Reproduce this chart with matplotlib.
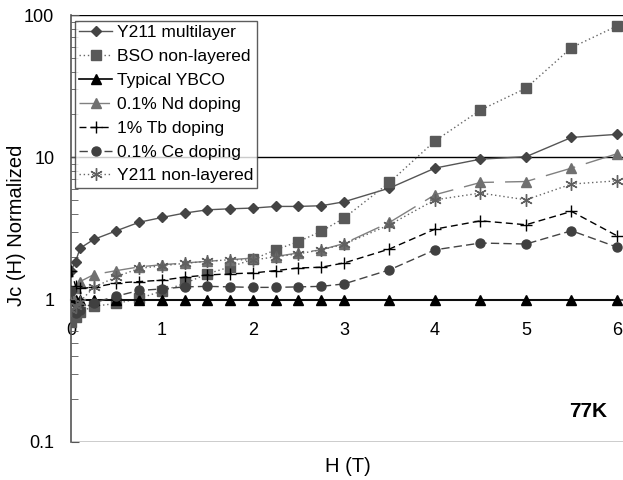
import matplotlib
matplotlib.use("Agg")
import matplotlib.pyplot as plt
from matplotlib.ticker import LogLocator, NullFormatter

plt.rcParams['font.family'] = ['Liberation Sans', 'DejaVu Sans']

# field values (T)
field = [0, 0.05, 0.1, 0.25, 0.5, 0.75, 1, 1.25, 1.5, 1.75, 2, 2.25, 2.5, 2.75,
         3, 3.5, 4, 4.5, 5, 5.5, 6]

# normalized Jc
y211_multilayer = [1.6, 1.85, 2.3, 2.65, 3.05, 3.5, 3.78, 4.06, 4.28, 4.35, 4.4,
                   4.52, 4.52, 4.57, 4.87, 6.08, 8.4, 9.71, 10.1, 13.8, 14.5]
bso_nonlayered = [0.7, 0.75, 0.82, 0.9, 0.94, 1.02, 1.15, 1.3, 1.52, 1.7, 1.92,
                  2.24, 2.56, 3.02, 3.74, 6.66, 13.05, 21.5, 30.6, 59, 83.7]
typical_ybco = [1.0] * len(field)
nd_doping = [1.1, 1.2, 1.34, 1.5, 1.6, 1.7, 1.76, 1.81, 1.86, 1.91, 1.96,
             2.01, 2.13, 2.24, 2.48, 3.49, 5.46, 6.66, 6.76, 8.4, 10.6]
tb_doping = [1.6, 1.25, 1.2, 1.22, 1.31, 1.34, 1.37, 1.44, 1.49, 1.52, 1.54,
             1.6, 1.67, 1.69, 1.81, 2.27, 3.13, 3.58, 3.36, 4.17, 2.81]
ce_doping = [1.15, 0.8, 0.85, 0.95, 1.06, 1.16, 1.19, 1.23, 1.24, 1.23, 1.22,
             1.22, 1.23, 1.24, 1.29, 1.62, 2.24, 2.5, 2.46, 3.05, 2.34]
y211_nonlayered = [0.85, 0.9, 0.97, 1.22, 1.45, 1.66, 1.73, 1.8, 1.86, 1.91, 1.9,
                   2.0, 2.1, 2.24, 2.45, 3.36, 5.03, 5.61, 5.03, 6.49, 6.84]

x_ticks = [0, 1, 2, 3, 4, 5, 6]
y_ticks = [0.1, 1, 10, 100]
y_tick_labels = ["0.1", "1", "10", "100"]

fig = plt.figure(figsize=(6.23, 4.8), dpi=100)
ax = fig.add_axes([71 / 623, 1 - 442 / 480, 552 / 623, 427 / 480])

ax.set_yscale('log')
ax.set_xlim(0, 6.066)
ax.set_ylim(0.1, 100)

# horizontal grid lines at each decade (except 1, which is the x axis)
for v in [0.1, 10, 100]:
    ax.axhline(v, color='black', lw=1.0, zorder=1)

ax.plot(field, y211_multilayer, color='#555555', lw=1.0, marker='D', ms=5.5,
        mfc='#444444', mec='#444444', label='Y211 multilayer', zorder=3)
ax.plot(field, bso_nonlayered, color='#666666', lw=1.0, ls=(0, (1, 2)),
        marker='s', ms=6.5, mfc='#595959', mec='#595959',
        label='BSO non-layered', zorder=3)
ax.plot(field, typical_ybco, color='black', lw=1.2, marker='^', ms=6.5,
        mfc='black', mec='black', label='Typical YBCO', zorder=3)
ax.plot(field, nd_doping, color='#808080', lw=1.0, ls=(0, (22, 8)),
        marker='^', ms=7, mfc='#707070', mec='#707070',
        label='0.1% Nd doping', zorder=3)
ax.plot(field, tb_doping, color='black', lw=1.0, ls=(0, (5, 3)),
        marker='+', ms=9, mew=1.0, mec='black',
        label='1% Tb doping', zorder=3)
ax.plot(field, ce_doping, color='#444444', lw=1.0, ls=(0, (6, 3)),
        marker='o', ms=6.5, mfc='#404040', mec='#404040',
        label='0.1% Ce doping', zorder=3)
ax.plot(field, y211_nonlayered, color='#666666', lw=1.0, ls=(0, (1, 2)),
        marker=(6, 2, 0), ms=9, mew=1.0, mec='#606060',
        label='Y211 non-layered', zorder=3)

# x axis crosses at y = 1
ax.spines['bottom'].set_position(('data', 1))
ax.spines['bottom'].set_color('#555555')
ax.spines['bottom'].set_linewidth(1.5)
ax.spines['bottom'].set_zorder(2)
ax.spines['top'].set_visible(False)
ax.spines['right'].set_visible(False)
ax.spines['left'].set_color('#555555')
ax.spines['left'].set_linewidth(1.2)

ax.set_xticks(x_ticks)
ax.tick_params(axis='x', length=0, pad=16, labelsize=13)
ax.set_yticks(y_ticks)
ax.set_yticklabels(y_tick_labels)
ax.yaxis.set_minor_locator(LogLocator(base=10, subs=range(2, 10)))
ax.yaxis.set_minor_formatter(NullFormatter())
ax.tick_params(axis='y', which='both', direction='in', color='#555555',
               labelsize=13, pad=12)
ax.tick_params(axis='y', which='major', length=6)
ax.tick_params(axis='y', which='minor', length=5)

ax.set_xlabel('H (T)', fontsize=14.5)
ax.set_ylabel('Jc (H) Normalized', fontsize=14.5)
ax.xaxis.set_label_coords((348 - 71) / 552, (442 - 457) / 427)
ax.yaxis.set_label_coords((26 - 71) / 552, (442 - 225) / 427)

ax.text(5.68, 0.165, '77K', fontsize=15, fontweight='bold', ha='center',
        va='center')

leg = ax.legend(loc='upper left', bbox_to_anchor=(4 / 552, 1 - 6 / 427),
                borderaxespad=0, fontsize=12.5, frameon=True, fancybox=False,
                edgecolor='#333333', handlelength=1.9, handletextpad=0.25,
                borderpad=0.25, labelspacing=0.5)
leg.get_frame().set_linewidth(1.0)
leg.set_zorder(5)

fig.savefig('out.png', dpi=100)
